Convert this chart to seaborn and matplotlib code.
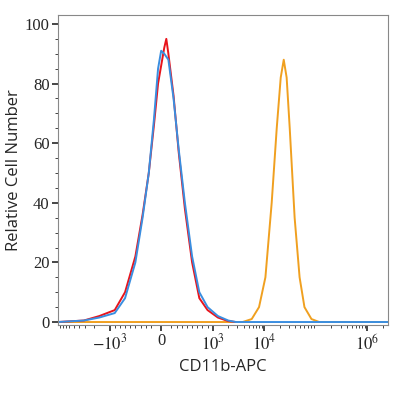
import numpy as np
import pandas as pd
import seaborn as sns
import matplotlib.pyplot as plt
from matplotlib.ticker import SymmetricalLogLocator, MultipleLocator

# values (x in CD11b-APC units, y = relative cell number)
blue_x = [-10000, -3160, -1585, -900, -700, -500, -360, -240, -140, -60, 0, 60, 140, 240, 340, 460, 600, 740, 900, 1260, 2000, 2800, 2500000]
blue_y = [0, 0.5, 1.5, 3, 8, 20, 35, 50, 68, 85, 91, 90, 88, 75, 58, 40, 22, 10, 5, 2, 0.5, 0, 0]
red_x = [-10000, -3160, -1585, -900, -700, -500, -360, -240, -140, -60, 0, 60, 100, 140, 240, 340, 460, 600, 740, 900, 1260, 2000, 2800]
red_y = [0, 0.5, 2, 4, 10, 22, 36, 50, 66, 80, 86, 92, 95, 90, 76, 57, 38, 20, 8, 4, 1.5, 0.3, 0]
orange_x = [-10000, 3800, 5700, 7900, 10500, 13900, 17400, 20800, 23800, 27100, 31100, 38700, 48300, 60000, 82000, 116000, 2500000]
orange_y = [0, 0, 1, 5, 15, 40, 65, 82, 88, 82, 65, 35, 15, 5, 1, 0, 0]

sns.set_style("ticks")
plt.rcParams["mathtext.fontset"] = "stix"
fig = plt.figure(figsize=(4, 4), dpi=100)
ax = fig.add_axes([0.145, 0.1875, 0.825, 0.775])

for xs, ys, c in [(orange_x, orange_y, "#f0a020"), (red_x, red_y, "#e8141c"), (blue_x, blue_y, "#3a8ee0")]:
    df = pd.DataFrame({"x": xs, "y": ys})
    sns.lineplot(data=df, x="x", y="y", sort=False, color=c, linewidth=1.4, ax=ax)

ax.set_xscale("symlog", linthresh=1000, linscale=0.9)
ax.set_xlim(-10000, 2500000)
ax.set_ylim(-1, 103)
ax.set_xticks([-1000, 0, 1000, 10000, 1000000])
ax.set_xticklabels(["$-10^3$", "0", "$10^3$", "$10^4$", "$10^6$"],
                   family="Liberation Serif", fontsize=12)
ax.xaxis.set_minor_locator(SymmetricalLogLocator(linthresh=1000, base=10, subs=np.arange(2, 10)))
ax.set_yticks([0, 20, 40, 60, 80, 100])
ax.set_yticklabels(["0", "20", "40", "60", "80", "100"], family="Liberation Serif", fontsize=12)
ax.yaxis.set_minor_locator(MultipleLocator(5))
ax.tick_params(which="major", length=4, width=1.2, pad=2)
ax.tick_params(which="minor", length=2.5)
ax.set_xlabel("CD11b-APC", fontsize=12, family="Open Sans")
ax.set_ylabel("Relative Cell Number", fontsize=12, family="Open Sans", labelpad=2)
for s in ax.spines.values():
    s.set_color("#888888")
fig.savefig("out.png")
